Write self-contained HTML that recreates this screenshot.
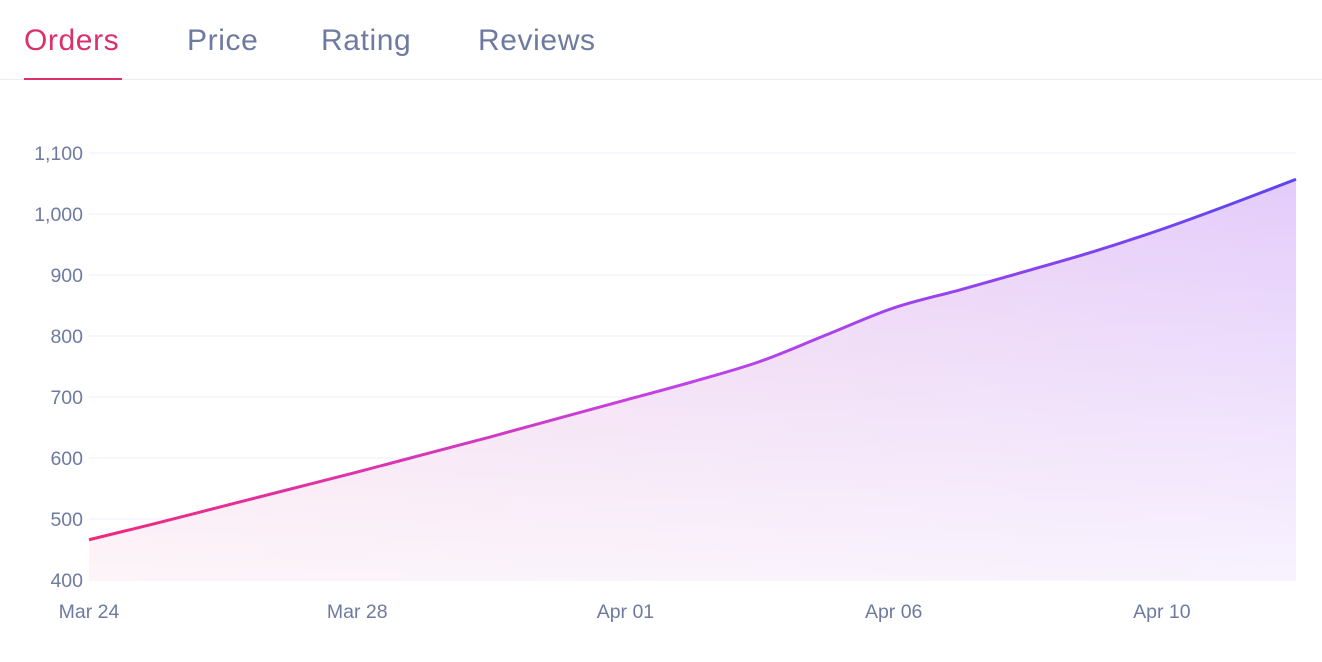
<!DOCTYPE html>
<html><head><meta charset="utf-8"><style>
body{margin:0;width:1322px;height:662px;background:#fff;font-family:"Liberation Sans",sans-serif;overflow:hidden;position:relative}
.tab{position:absolute;top:24px;font-size:30px;letter-spacing:0.6px;color:#6e7a9f;white-space:nowrap}
.tab.active{color:#db3068}
</style></head><body>
<div class="tab active" style="left:24px;">Orders</div>
<div class="tab" style="left:187px;">Price</div>
<div class="tab" style="left:321px;">Rating</div>
<div class="tab" style="left:478px;">Reviews</div>
<div style="position:absolute;left:0;top:79px;width:1322px;height:1px;background:#e8ecf5"></div>
<div style="position:absolute;left:24px;top:78px;width:98px;height:2px;background:#db3068"></div>
<svg id="chart" width="1322" height="662" style="position:absolute;left:0;top:0">
<defs>
<linearGradient id="lineg" x1="0" x2="1" y1="0" y2="0"><stop offset="0" stop-color="#f0297a"/><stop offset="0.5" stop-color="#c043e8"/><stop offset="1" stop-color="#5b45f0"/></linearGradient>
<linearGradient id="areah" x1="0" x2="1" y1="0" y2="0"><stop offset="0" stop-color="#f6d6e8"/><stop offset="1" stop-color="#e4ccfb"/></linearGradient>
<linearGradient id="fadev" x1="0" x2="0" y1="0" y2="1"><stop offset="0" stop-color="#fff" stop-opacity="0"/><stop offset="1" stop-color="#fff" stop-opacity="0.75"/></linearGradient>
</defs>
</svg>
<script>
const categories=["Mar 24","Mar 25","Mar 26","Mar 27","Mar 28","Mar 29","Mar 30","Mar 31","Apr 01","Apr 02","Apr 03","Apr 04","Apr 06","Apr 07","Apr 08","Apr 09","Apr 10","Apr 11","Apr 12"];
const orders=[466,493,521,549,577,606,635,665,695,725,758,802,846,876,907,939,975,1015,1057];
const yTicks=[400,500,600,700,800,900,1000,1100];
const xTickIdx=[0,4,8,12,16];
const svg=document.getElementById('chart');
const NS='http://www.w3.org/2000/svg';
const x0=89,x1=1296,yTop=153,yBot=580,yMin=400,yMax=1100;
const xs=i=>x0+(x1-x0)*i/(categories.length-1);
const ys=v=>yBot-(v-yMin)/(yMax-yMin)*(yBot-yTop);
function mk(t,a){const e=document.createElementNS(NS,t);for(const k in a)e.setAttribute(k,a[k]);svg.appendChild(e);return e;}
yTicks.forEach(v=>{
 const l=mk('line',{x1:x0,x2:x1,y1:ys(v),y2:ys(v),stroke:'#eceef8','stroke-width':1});
 
 
 const t=mk('text',{x:83,y:ys(v)+7,'text-anchor':'end','font-size':'19.5','fill':'#6e7a9f','font-family':'Liberation Sans, sans-serif'});
 t.textContent=v.toLocaleString('en-US');
 
 
});
xTickIdx.forEach(i=>{
 const t=mk('text',{x:xs(i),y:618,'text-anchor':'middle','font-size':'19.5','fill':'#6e7a9f','font-family':'Liberation Sans, sans-serif'});
 t.textContent=categories[i];
 
 
});
const pts=orders.map((v,i)=>[xs(i),ys(v)]);
let d='M'+pts[0][0]+','+pts[0][1];
for(let i=0;i<pts.length-1;i++){
 const p0=pts[Math.max(0,i-1)],p1=pts[i],p2=pts[i+1],p3=pts[Math.min(pts.length-1,i+2)];
 const c1=[p1[0]+(p2[0]-p0[0])/6,p1[1]+(p2[1]-p0[1])/6],c2=[p2[0]-(p3[0]-p1[0])/6,p2[1]-(p3[1]-p1[1])/6];
 d+=` C${c1[0]},${c1[1]} ${c2[0]},${c2[1]} ${p2[0]},${p2[1]}`;
}
const areaD=d+` L${x1},${yBot} L${x0},${yBot} Z`;
const a=mk('path',{d:areaD,fill:'url(#areah)'});


const a2=mk('path',{d:areaD,fill:'url(#fadev)'});


const ln=mk('path',{d:d,fill:'none',stroke:'url(#lineg)','stroke-width':3});


</script>
</body></html>
